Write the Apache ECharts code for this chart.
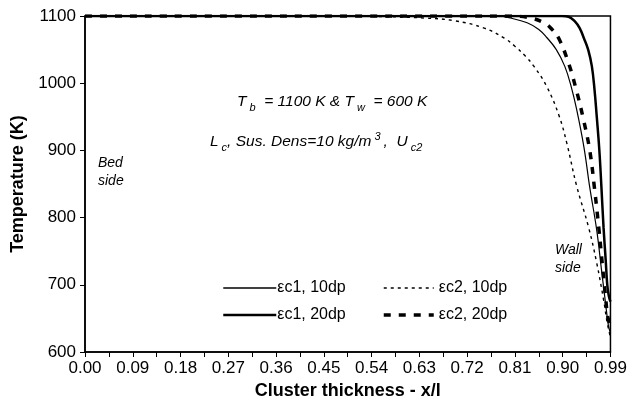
<!DOCTYPE html>
<html>
<head>
<meta charset="utf-8">
<script src="https://cdn.jsdelivr.net/npm/echarts@6/dist/echarts.min.js"></script>
<style>
  html, body { margin: 0; padding: 0; background: #fff; }
  #chart { width: 630px; height: 411px; }
</style>
</head>
<body>
<div id="chart"></div>
<script>
// x/l positions and temperatures (K)
const c1_10dp_x = [0, 0.70, 0.777, 0.801, 0.833, 0.855, 0.870, 0.888, 0.904, 0.916, 0.926, 0.940, 0.951, 0.964, 0.973, 0.981, 0.986, 0.99];
const c1_10dp_y = [1100, 1100, 1100, 1097, 1090, 1080, 1068, 1050, 1025, 995, 962, 905, 845, 782, 723, 671, 640, 628];

const c1_20dp_x = [0, 0.85, 0.898, 0.911, 0.923, 0.932, 0.940, 0.948, 0.955, 0.960, 0.964, 0.969, 0.973, 0.977, 0.981, 0.984, 0.987, 0.99];
const c1_20dp_y = [1100, 1100, 1100, 1099, 1092, 1082, 1067, 1050, 1025, 990, 952, 901, 845, 785, 737, 700, 683, 675];

const c2_10dp_x = [0, 0.45, 0.533, 0.640, 0.696, 0.752, 0.790, 0.810, 0.830, 0.846, 0.870, 0.893, 0.908, 0.926, 0.949, 0.964, 0.977, 0.984, 0.99];
const c2_10dp_y = [1100, 1100, 1099.5, 1097, 1093, 1082, 1067, 1055, 1040, 1025, 995, 952, 910, 848, 785, 733, 678, 643, 622];

const c2_20dp_x = [0, 0.72, 0.795, 0.833, 0.865, 0.880, 0.893, 0.911, 0.925, 0.938, 0.951, 0.960, 0.968, 0.975, 0.981, 0.985, 0.99];
const c2_20dp_y = [1100, 1100, 1100, 1098, 1090, 1080, 1066, 1030, 992, 950, 900, 843, 785, 728, 680, 652, 640];

const xTicks = [0, 0.99, 0.09];   // min, max, step
const yTicks = [600, 1100, 100];

function pairs(xs, ys) {
  return xs.map((x, i) => [x, ys[i]]);
}

const chart = echarts.init(document.getElementById('chart'), null, { renderer: 'canvas' });
const font = 'Liberation Sans, Arial, sans-serif';

const styles = {
  'εc1, 10dp': { width: 1.2, type: 'solid' },
  'εc1, 20dp': { width: 2.5, type: 'solid' },
  'εc2, 10dp': { width: 1.4, type: [3, 4] },
  'εc2, 20dp': { width: 3.5, type: [7, 8] }
};

function line(name, xs, ys) {
  return {
    name: name,
    type: 'line',
    data: pairs(xs, ys),
    showSymbol: false,
    symbol: 'none',
    smooth: 0.4,
    lineStyle: Object.assign({ color: '#000' }, styles[name]),
    itemStyle: { color: '#000' }
  };
}

function legendItem(name) {
  const st = Object.assign({ color: '#000' }, styles[name]);
  if (st.width < 1.5) st.width = 1.5;
  return { name: name, lineStyle: st };
}

const legendBase = {
  orient: 'vertical', top: 280, padding: 0,
  itemHeight: 14, itemGap: 11,
  itemStyle: { opacity: 0 }
};

chart.setOption({
  animation: false,
  backgroundColor: '#fff',
  textStyle: { fontFamily: font },
  grid: {
    left: 85, right: 16, top: 16, bottom: 59,
    show: true, borderColor: '#000', borderWidth: 1.5, backgroundColor: 'transparent'
  },
  xAxis: {
    type: 'value',
    min: xTicks[0], max: xTicks[1], interval: xTicks[2],
    name: 'Cluster thickness - x/l',
    nameLocation: 'middle',
    nameGap: 30,
    nameTextStyle: { fontSize: 18, fontWeight: 'bold', color: '#000' },
    axisLine: { show: true, onZero: false, lineStyle: { color: '#000', width: 1.5 } },
    axisTick: { show: true, inside: false, length: 5, lineStyle: { color: '#000' } },
    minorTick: { show: true, splitNumber: 2, length: 5, lineStyle: { color: '#000' } },
    axisLabel: { fontSize: 17, color: '#000', margin: 8, formatter: v => v.toFixed(2) },
    splitLine: { show: false }
  },
  yAxis: {
    type: 'value',
    min: yTicks[0], max: yTicks[1], interval: yTicks[2],
    name: 'Temperature (K)',
    nameLocation: 'middle',
    nameGap: 53,
    nameTextStyle: { fontSize: 18, fontWeight: 'bold', color: '#000' },
    axisLine: { show: true, lineStyle: { color: '#000', width: 1.5 } },
    axisTick: { show: true, inside: false, length: 5, lineStyle: { color: '#000' } },
    axisLabel: { fontSize: 17, color: '#000', margin: 9, formatter: v => String(v) },
    splitLine: { show: false }
  },
  legend: [
    Object.assign({}, legendBase, {
      left: 222, itemWidth: 53,
      textStyle: { fontSize: 16, color: '#000', padding: [0, 0, 0, -4] },
      data: [legendItem('εc1, 10dp'), legendItem('εc1, 20dp')]
    }),
    Object.assign({}, legendBase, {
      left: 382, itemWidth: 50,
      textStyle: { fontSize: 16, color: '#000', padding: [0, 0, 0, 0] },
      data: [legendItem('εc2, 10dp'), legendItem('εc2, 20dp')]
    })
  ],
  graphic: [
    {
      type: 'text', left: 237, top: 94,
      style: {
        text: '{i|T}{s|b}{i|  = 1100 K & T}{s|w}{i|  = 600 K}',
        rich: {
          i: { fontSize: 15.5, fontStyle: 'italic', fill: '#000', fontFamily: font, lineHeight: 22, verticalAlign: 'middle' },
          s: { fontSize: 11, fontStyle: 'italic', fill: '#000', fontFamily: font, lineHeight: 22, verticalAlign: 'bottom', padding: [7, 0, 0, 3] }
        }
      }
    },
    {
      type: 'text', left: 210, top: 131,
      style: {
        text: '{i|L}{s|c}{i|, Sus. Dens=10 kg/m}{p|3}{i|,  U}{s|c2}',
        rich: {
          i: { fontSize: 15.5, fontStyle: 'italic', fill: '#000', fontFamily: font, lineHeight: 22, verticalAlign: 'middle' },
          s: { fontSize: 11, fontStyle: 'italic', fill: '#000', fontFamily: font, lineHeight: 22, verticalAlign: 'bottom', padding: [7, 0, 0, 3] },
          p: { fontSize: 11, fontStyle: 'italic', fill: '#000', fontFamily: font, lineHeight: 22, verticalAlign: 'top', padding: [0, 3, 7, 3] }
        }
      }
    },
    {
      type: 'text', left: 98, top: 154,
      style: { text: 'Bed\nside', fontSize: 14, fontStyle: 'italic', fill: '#000', fontFamily: font, lineHeight: 18 }
    },
    {
      type: 'text', left: 555, top: 241,
      style: { text: 'Wall\nside', fontSize: 14, fontStyle: 'italic', fill: '#000', fontFamily: font, lineHeight: 18 }
    }
  ],
  series: [
    line('εc1, 10dp', c1_10dp_x, c1_10dp_y),
    line('εc1, 20dp', c1_20dp_x, c1_20dp_y),
    line('εc2, 10dp', c2_10dp_x, c2_10dp_y),
    line('εc2, 20dp', c2_20dp_x, c2_20dp_y)
  ]
});
</script>
</body>
</html>
